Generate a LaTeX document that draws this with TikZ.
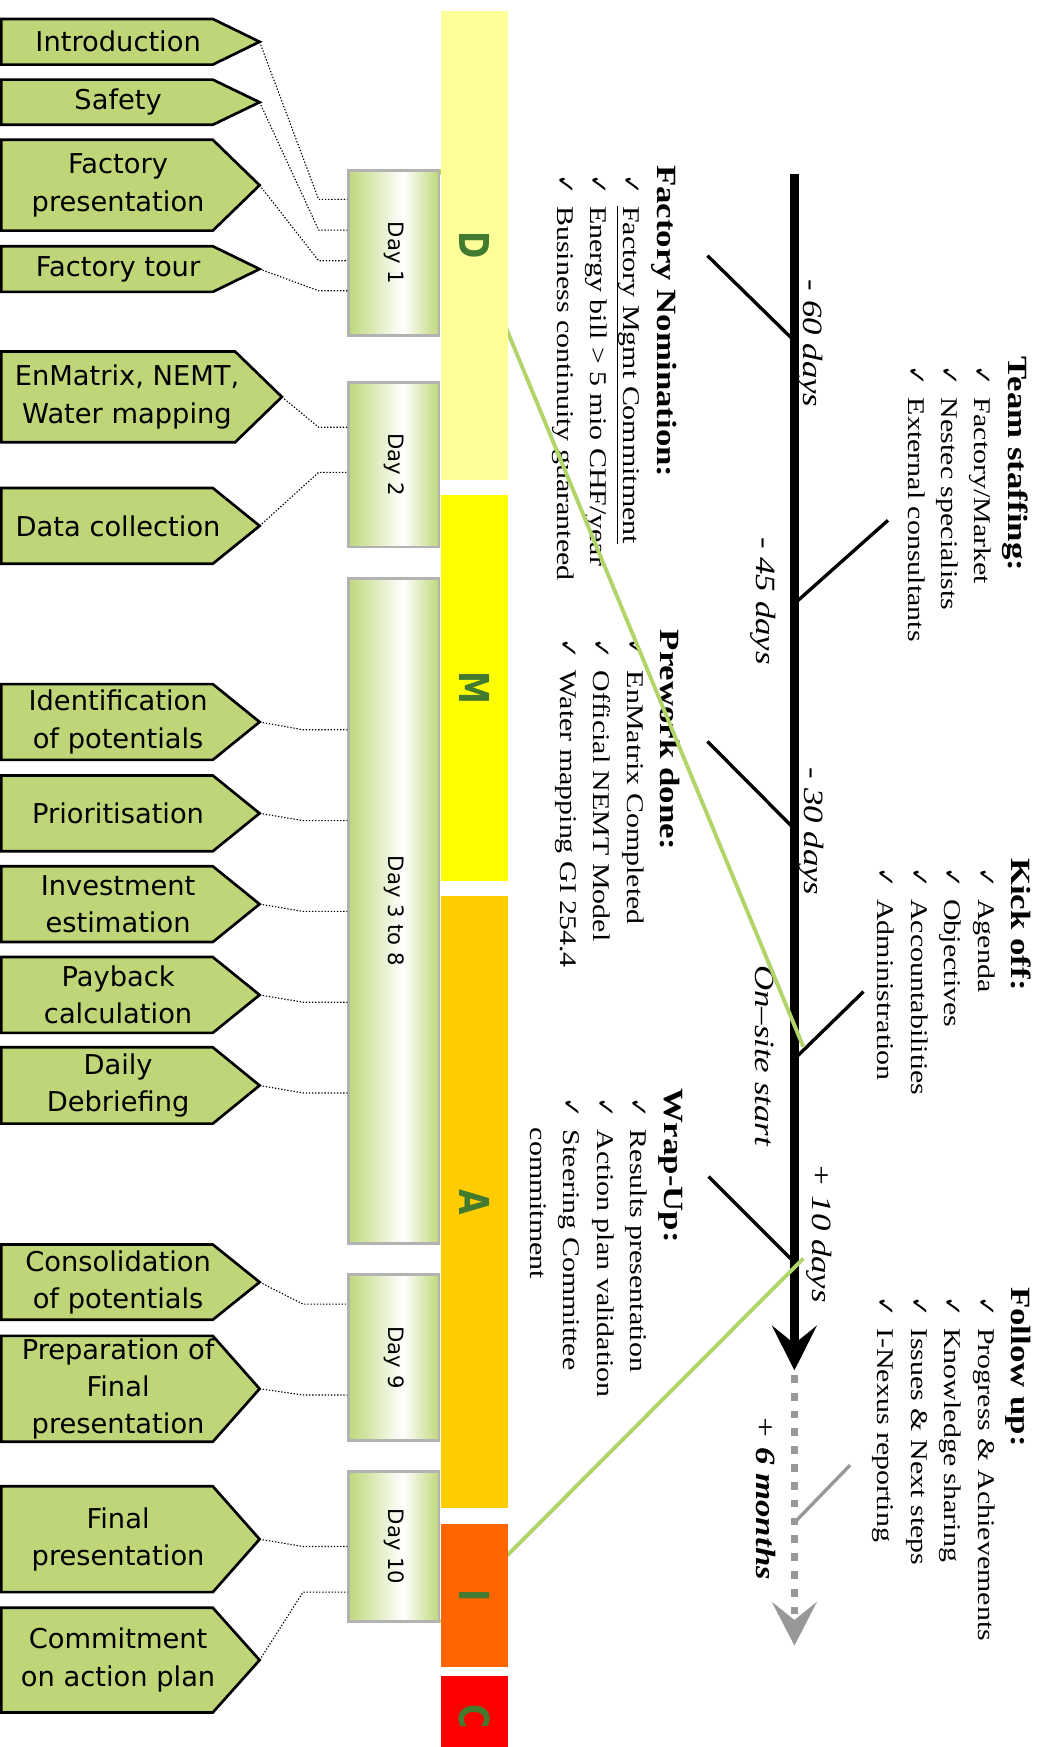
\documentclass[tikz,border=0pt]{standalone}
\usepackage{fontspec}
\setmainfont{DejaVu Sans}
\newfontfamily\timesfont[FakeStretch=1.25]{Liberation Serif}
\newfontfamily\chkfont{DejaVu Sans}
\newfontfamily\phasefont[FakeStretch=0.8]{DejaVu Sans}
\usepackage{tikz}
\usetikzlibrary{arrows.meta}
\usetikzlibrary{calc}
\definecolor{actgreen}{RGB}{190,214,120}
\definecolor{daygreen}{RGB}{190,216,122}
\definecolor{dayborder}{RGB}{178,178,178}
\definecolor{zoomgreen}{RGB}{178,213,105}
\definecolor{lettergreen}{RGB}{66,122,47}
\definecolor{fugray}{RGB}{152,152,152}
\definecolor{phaseD}{RGB}{255,255,153}
\definecolor{phaseM}{RGB}{255,255,0}
\definecolor{phaseA}{RGB}{255,204,0}
\definecolor{phaseI}{RGB}{255,102,0}
\definecolor{phaseC}{RGB}{255,0,0}
\pgfdeclarehorizontalshading{daybar}{100bp}{color(0bp)=(daygreen); color(25bp)=(daygreen); color(55bp)=(white); color(75bp)=(daygreen); color(100bp)=(daygreen)}
\tikzstyle{activity}=[draw=black, line width=2.4pt, fill=actgreen]
\tikzstyle{acttext}=[align=center, inner sep=0pt, font=\fontsize{24.5}{33.5}\selectfont]
\tikzstyle{daybox}=[draw=dayborder, line width=2.5pt, shade, shading=daybar, minimum width=81pt, inner sep=0pt, font=\fontsize{19}{19}\selectfont]
\tikzstyle{phase}=[rectangle, minimum width=60pt, inner sep=0pt, text=lettergreen, font=\phasefont\bfseries\fontsize{37}{37}\selectfont]
\tikzstyle{link}=[line width=1pt, dash pattern=on 1.2pt off 1.6pt]
\tikzstyle{tltext}=[rotate=-90, anchor=base west, align=left, inner sep=0pt, font=\timesfont\fontsize{21.5}{30}\selectfont]
\tikzstyle{tlabel}=[rotate=-90, anchor=base west, inner sep=0pt, font=\timesfont\itshape\fontsize{25}{25}\selectfont]
\tikzstyle{branch}=[line width=3pt]
\tikzstyle{zoomline}=[zoomgreen, line width=3.5pt]
\newcommand{\tick}{\makebox[37pt][l]{\hspace*{8pt}{\chkfont\fontsize{22}{22}\selectfont ✓}}}
\newcommand{\headfont}{\bfseries\fontsize{25}{30}\selectfont}

\begin{document}
\begin{tikzpicture}[x=1pt,y=-1pt]
\useasboundingbox (0,0) rectangle (939,1568);
\fill[white] (0,0) rectangle (939,1568);

\foreach \nm/\ya/\yb/\tip/\tx/\txt in {intro/17/58/233/106/Introduction,
  safety/71.5/112/233/106/Safety,
  facpres/125.5/207/233/106/{Factory\\presentation},
  tour/221/262/233/106/Factory tour,
  enmatrix/315.5/397/253/114/{EnMatrix, NEMT,\\Water mapping},
  datacol/438/506/233/106/Data collection,
  ident/614/682/233/106/{Identification\\of potentials},
  prior/696/764/233/106/Prioritisation,
  invest/777.5/845.5/233/106/{Investment\\estimation},
  payback/859/927/233/106/{Payback\\calculation},
  daily/940/1008.5/233/106/{Daily\\Debriefing},
  consol/1117/1184.5/233/106/{Consolidation\\of potentials},
  prep/1199/1294/233/106/{Preparation of\\Final\\presentation},
  final/1334/1429/233/106/{Final\\presentation},
  commit/1443/1537/233/106/{Commitment\\on action plan}}{
  \draw[activity] (1.2,\ya) -- (\tip-42,\ya) -- (\tip,{(\ya+\yb)/2}) -- (\tip-42,\yb) -- (1.2,\yb) -- cycle;
  \coordinate (\nm tip) at (\tip,{(\ya+\yb)/2});
  \node[acttext] (\nm) at (\tx,{(\ya+\yb)/2}) {\txt};
}

\node[daybox, minimum height=148pt] (day1) at (353.5,227) {\rotatebox{-90}{Day 1}};
\node[daybox, minimum height=148pt] (day2) at (353.5,417) {\rotatebox{-90}{Day 2}};
\node[daybox, minimum height=597pt] (day38) at (353.5,817.5) {\rotatebox{-90}{Day 3 to 8}};
\node[daybox, minimum height=149pt] (day9) at (353.5,1218.5) {\rotatebox{-90}{Day 9}};
\node[daybox, minimum height=134pt] (day10) at (353.5,1388) {\rotatebox{-90}{Day 10}};

\foreach \nm/\dd/\bx/\by in {intro/day1/286/179, safety/day1/286/206.5,
  facpres/day1/286/234, tour/day1/286/261, enmatrix/day2/286/383.5,
  datacol/day2/286/424, ident/day38/272/655, prior/day38/272/736.5,
  invest/day38/272/818, payback/day38/272/899.5, daily/day38/272/981,
  consol/day9/272/1170.5, prep/day9/272/1252, final/day10/272/1388,
  commit/day10/272/1429}
  \draw[link] (\nm tip) -- (\bx,\by) -- (\bx,\by -| \dd.west);

\coordinate (tl top) at (713,156);
\coordinate (tl tip) at (713,1230);
\coordinate (m60) at (711,304);
\coordinate (m60 end) at (635,229.5);
\coordinate (m45) at (715,540);
\coordinate (m45 end) at (797,467);
\coordinate (m30) at (711,742);
\coordinate (m30 end) at (635,665.5);
\coordinate (start) at (715,948.5);
\coordinate (start end) at (775,890);
\coordinate (p10) at (711,1131);
\coordinate (p10 end) at (636,1056);
\coordinate (fu top) at (713,1234);
\coordinate (fu tip) at (713,1477);
\coordinate (p6m) at (715,1364.5);
\coordinate (p6m end) at (763,1315);
\coordinate (start zoom) at (721,939.5);
\coordinate (p10 zoom) at (721,1129.5);

\draw[branch] (m60) -- (m60 end);
\draw[branch] (m45) -- (m45 end);
\draw[branch] (m30) -- (m30 end);
\draw[branch] (start) -- (start end);
\draw[branch] (p10) -- (p10 end);
\draw[branch, fugray] (p6m) -- (p6m end);
\draw[line width=7.5pt, -{Stealth[length=40pt, width=40pt, inset=16pt]}] (tl top) -- (tl tip);
\draw[fugray, line width=7pt, dash pattern=on 7pt off 9pt, -{Stealth[length=39pt, width=40pt, inset=16pt]}] (fu top) -- (fu tip);

\node[tlabel] (l60) at (721,251) {- 60 days};
\node[tlabel] (l45) at (679,482) {- 45 days};
\node[tlabel] (l30) at (722,689) {- 30 days};
\node[tlabel] (lstart) at (678,866) {On–site start};
\node[tlabel] (l10) at (729,1044) {+ 10 days};
\node[tlabel] (l6m) at (679,1270) {+ \textbf{6 months}};

\node[tltext] (staff) at (815,320) {{\headfont Team staffing:}\\\tick Factory/Market\\\tick Nestec specialists\\\tick External consultants};
\node[tltext] (nomination) at (500,148) {{\headfont Factory Nomination:}\\\tick\underline{Factory Mgmt Commitment}\\\tick Energy bill > 5 mio CHF/year\\\tick Business continuity guaranteed};
\node[tltext] (prework) at (503,565) {{\headfont Prework done:}\\\tick EnMatrix Completed\\\tick Official NEMT Model\\\tick Water mapping GI 254.4};
\node[tltext] (kickoff) at (788,770) {{\headfont Kick off:}\\\tick Agenda\\\tick Objectives\\\tick Accountabilities\\\tick Administration};
\node[tltext] (wrapup) at (476,977) {{\headfont Wrap-Up:}\\\tick Results presentation\\\tick Action plan validation\\\tick Steering Committee\\\hspace*{35pt}commitment};
\node[tltext] (followup) at (788,1155) {{\headfont Follow up:}\\\tick Progress \& Achievements\\\tick Knowledge sharing\\\tick Issues \& Next steps\\\tick I-Nexus reporting};

\draw[zoomline] (day1.north east) -- (start zoom);
\draw[zoomline] (day10.south east) -- (p10 zoom);

\node[phase, fill=phaseD, minimum height=421pt] (phD) at (426,220.5) {\rotatebox{-90}{D}};
\node[phase, fill=phaseM, minimum height=346.5pt] (phM) at (426,617.25) {\rotatebox{-90}{M}};
\node[phase, fill=phaseA, minimum height=549.5pt] (phA) at (426,1078.75) {\rotatebox{-90}{A}};
\node[phase, fill=phaseI, minimum height=128.5pt] (phI) at (426,1432.25) {\rotatebox{-90}{I}};
\node[phase, fill=phaseC, minimum height=74pt] (phC) at (426,1541) {\rotatebox{-90}{C}};
\end{tikzpicture}
\end{document}
